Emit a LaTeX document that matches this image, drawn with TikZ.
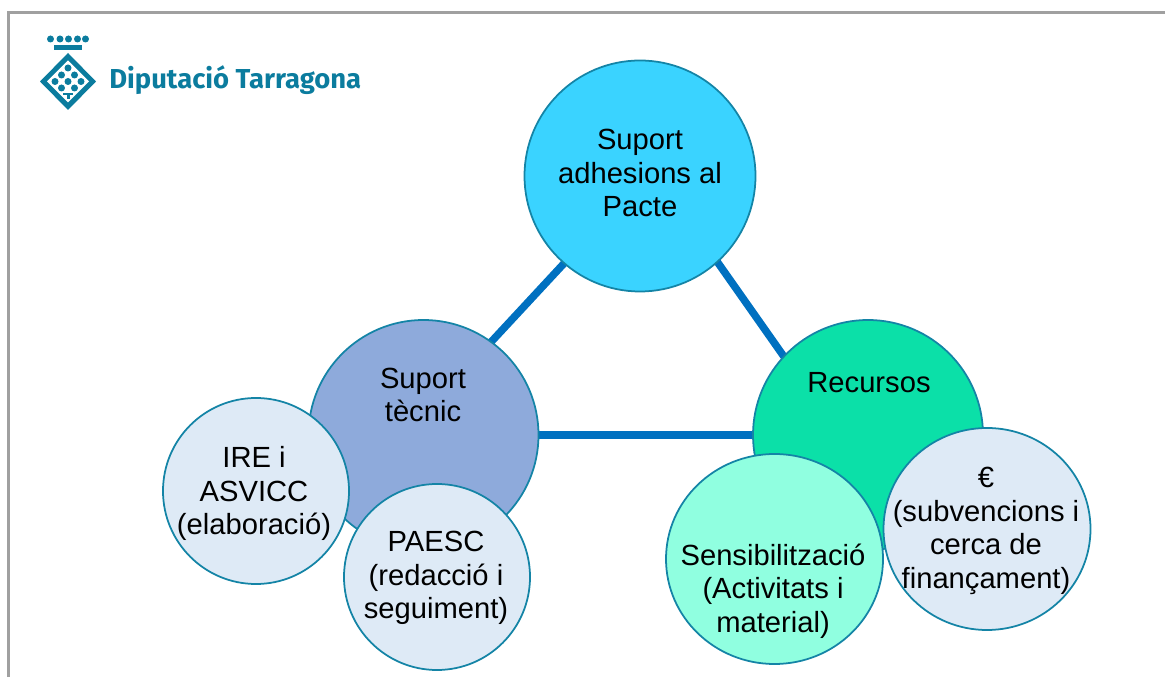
\documentclass[tikz,border=0pt]{standalone}
\usepackage{fontspec}
\usepackage{xcolor}
\setmainfont{Liberation Sans}
\newfontfamily\logofont{Fira Sans}
\usetikzlibrary{shapes.geometric,backgrounds}
\definecolor{ringblue}{HTML}{1484A6}
\definecolor{linkblue}{HTML}{0070C0}
\definecolor{logoblue}{HTML}{0B7C9E}
\definecolor{skyfill}{HTML}{3AD3FF}
\definecolor{slatefill}{HTML}{8EAADB}
\definecolor{greenfill}{HTML}{0BE0A8}
\definecolor{mintfill}{HTML}{90FFE0}
\definecolor{palefill}{HTML}{DEEAF6}
\definecolor{framegray}{HTML}{A0A0A0}
\tikzset{
  bubble/.style={circle,draw=ringblue,line width=1pt,inner sep=0pt,outer sep=0pt},
  oval/.style={ellipse,draw=ringblue,line width=1pt,inner sep=0pt,outer sep=0pt},
  caption/.style={align=center,inner sep=0pt,font=\fontsize{16.6}{19.05}\selectfont},
  link/.style={linkblue,line width=0.15cm}
}
\begin{document}
\begin{tikzpicture}[>=stealth]
\useasboundingbox (0,0) rectangle (23.3,13.54);
\draw[framegray,line width=0.05cm] (0.17,0)--(0.17,13.29)--(23.3,13.29);
%logo
\foreach \x in {1.01,1.20,1.37,1.55,1.71}
  \fill[logoblue] (\x,12.76) circle (0.07);
\fill[logoblue] (1.08,12.64) rectangle (1.64,12.54);
\fill[logoblue] (1.36,12.48)--(1.92,11.91)--(1.36,11.34)--(0.80,11.91)--cycle;
\fill[white] (1.36,12.33)--(1.78,11.91)--(1.36,11.49)--(0.94,11.91)--cycle;
\foreach \x/\y in {1.36/12.18,1.23/12.04,1.49/12.04,1.10/11.91,1.36/11.91,1.62/11.91,1.23/11.78,1.49/11.78}
  \fill[logoblue] (\x,\y) circle (0.07);
\fill[logoblue] (1.26,11.68) rectangle (1.46,11.63);
\fill[logoblue] (1.33,11.63) rectangle (1.39,11.56);
\node[text=logoblue,inner sep=0pt,anchor=west,font=\logofont\bfseries\fontsize{15.6}{17}\selectfont] (brand) at (2.18,11.93) {Diputació Tarragona};
%circles
\node[bubble,fill=skyfill,minimum size=4.62cm] (pacte) at (12.8,10.02) {};
\node[bubble,fill=slatefill,minimum size=4.6cm] (tecnic) at (8.47,4.84) {};
\node[bubble,fill=greenfill,minimum size=4.6cm] (recursos) at (17.36,4.84) {};
\node[bubble,fill=palefill,minimum size=3.72cm] (ire) at (5.12,3.72) {};
\node[bubble,fill=palefill,minimum size=3.72cm] (paesc) at (8.74,2.0) {};
\node[oval,fill=mintfill,minimum width=4.34cm,minimum height=4.2cm] (sensib) at (15.49,2.36) {};
\node[oval,fill=palefill,minimum width=4.14cm,minimum height=4.04cm] (subv) at (19.74,2.96) {};
\begin{scope}[on background layer]
\draw[link] (pacte.229)--(tecnic.54);
\draw[link] (pacte.-48)--(recursos.137);
\draw[link] (tecnic.east)--(recursos.west);
\end{scope}
%labels
\node[caption] (pactetxt) at (12.8,10.08) {Suport\\adhesions al\\Pacte};
\node[caption] (tecnictxt) at (8.46,5.64) {Suport\\tècnic};
\node[caption] (recursostxt) at (17.38,5.88) {Recursos};
\node[caption] (iretxt) at (5.08,3.67) {IRE i\\ASVICC\\(elaboració)};
\node[caption] (paesctxt) at (8.72,1.98) {PAESC\\(redacció i\\seguiment)};
\node[caption] (sensibtxt) at (15.46,1.72) {Sensibilització\\(Activitats i\\material)};
\node[caption] (subvtxt) at (19.72,2.92) {€\\(subvencions i\\cerca de\\finançament)};
\end{tikzpicture}
\end{document}
